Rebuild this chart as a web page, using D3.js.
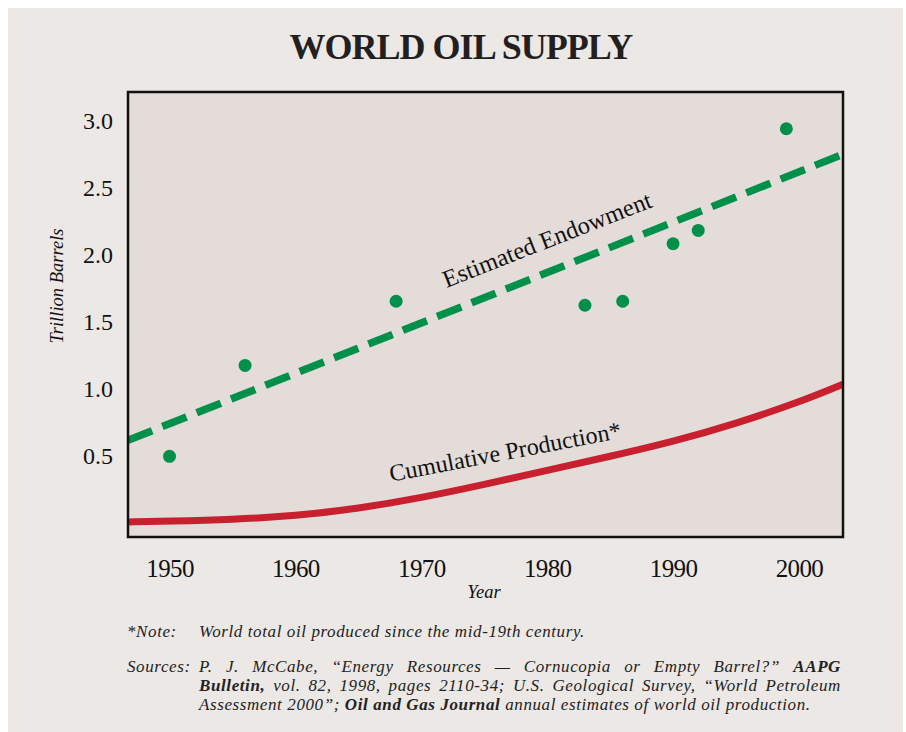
<!DOCTYPE html>
<html>
<head>
<meta charset="utf-8">
<script src="https://cdn.jsdelivr.net/npm/d3@7"></script>
<style>
  body { margin: 0; background: #fff; }
  svg { display: block; font-family: "Liberation Serif", "Times New Roman", serif; }
</style>
</head>
<body>
<svg id="chart" width="906" height="732"></svg>
<script>
// data
var endowYears = [1950, 1956, 1968, 1983, 1986, 1990, 1992, 1999];
var endowValues = [0.49, 1.17, 1.65, 1.62, 1.65, 2.08, 2.18, 2.94];

// dashed trend line ends
var trendYears = [1946.7, 2003.5];
var trendValues = [0.61, 2.75];

var prodYears = [1946.7, 1950, 1955, 1960, 1965, 1970, 1975, 1980, 1985, 1990, 1995, 2000, 2003.5];
var prodValues = [0.0, 0.005, 0.017, 0.045, 0.10, 0.18, 0.28, 0.385, 0.49, 0.60, 0.735, 0.895, 1.03];

var yTicks = [0.5, 1.0, 1.5, 2.0, 2.5, 3.0];
var xTicks = [1950, 1960, 1970, 1980, 1990, 2000];

var svg = d3.select("#chart");
var margin = { top: 92, right: 63, bottom: 195, left: 128 };
var width = 906, height = 732;

var green = "#00904a", red = "#c8202e";

// page background
svg.append("rect")
    .attr("x", 8).attr("y", 8)
    .attr("width", 895).attr("height", 724)
    .attr("fill", "#ece8e5");

var xScale = d3.scaleLinear()
    .domain([1946.7, 2003.5])
    .range([margin.left, width - margin.right]);

var yScale = d3.scaleLinear()
    .domain([-0.113, 3.215])
    .range([height - margin.bottom, margin.top]);

// plot area
svg.append("rect")
    .attr("x", margin.left).attr("y", margin.top)
    .attr("width", width - margin.left - margin.right)
    .attr("height", height - margin.top - margin.bottom)
    .attr("fill", "#e3dcd9");

// title
svg.append("text")
    .attr("x", 461).attr("y", 59)
    .attr("text-anchor", "middle")
    .attr("font-size", 36).attr("font-weight", "bold")
    .attr("letter-spacing", -1)
    .attr("fill", "#231f20")
    .text("WORLD OIL SUPPLY");

// axes (labels only)
var yAxis = svg.append("g")
    .attr("transform", "translate(" + margin.left + ",0)")
    .call(d3.axisLeft(yScale).tickValues(yTicks).tickSize(0).tickPadding(15)
        .tickFormat(d3.format(".1f")));
yAxis.select(".domain").remove();
yAxis.selectAll("text")
    .attr("font-family", "Liberation Serif, serif")
    .attr("font-size", 24).attr("fill", "#111")
    .attr("dy", "0.34em");

var xAxis = svg.append("g")
    .attr("transform", "translate(0," + (height - margin.bottom) + ")")
    .call(d3.axisBottom(xScale).tickValues(xTicks).tickSize(0).tickFormat(d3.format("d")));
xAxis.select(".domain").remove();
xAxis.selectAll("text")
    .attr("font-family", "Liberation Serif, serif")
    .attr("font-size", 25).attr("fill", "#111")
    .attr("letter-spacing", -0.6)
    .attr("y", 40).attr("dy", 0);

// axis titles
svg.append("text")
    .attr("transform", "translate(63,286) rotate(-90)")
    .attr("text-anchor", "middle")
    .attr("font-size", 18.5).attr("font-style", "italic").attr("fill", "#111")
    .text("Trillion Barrels");

svg.append("text")
    .attr("x", 484).attr("y", 598)
    .attr("text-anchor", "middle")
    .attr("font-size", 18.5).attr("font-style", "italic").attr("fill", "#111")
    .text("Year");

// clip to plot box
svg.append("clipPath").attr("id", "plotClip")
    .append("rect")
    .attr("x", margin.left).attr("y", margin.top)
    .attr("width", width - margin.left - margin.right)
    .attr("height", height - margin.top - margin.bottom);

var plot = svg.append("g").attr("clip-path", "url(#plotClip)");

var trend = trendYears.map(function (d, i) { return { year: d, value: trendValues[i] }; });
var prod = prodYears.map(function (d, i) { return { year: d, value: prodValues[i] }; });
var dots = endowYears.map(function (d, i) { return { year: d, value: endowValues[i] }; });

var line = d3.line()
    .x(function (d) { return xScale(d.year); })
    .y(function (d) { return yScale(d.value); });

var curve = d3.line()
    .x(function (d) { return xScale(d.year); })
    .y(function (d) { return yScale(d.value); })
    .curve(d3.curveBasis);

plot.append("path")
    .datum(prod)
    .attr("fill", "none")
    .attr("stroke", red)
    .attr("stroke-width", 7)
    .attr("d", curve);

plot.append("path")
    .datum(trend)
    .attr("fill", "none")
    .attr("stroke", green)
    .attr("stroke-width", 7.5)
    .attr("stroke-dasharray", "26,11")
    .attr("d", line);

plot.selectAll("circle")
    .data(dots)
    .enter().append("circle")
    .attr("cx", function (d) { return xScale(d.year); })
    .attr("cy", function (d) { return yScale(d.value); })
    .attr("r", 6.5)
    .attr("fill", green);

// rotated line labels, angle taken from the line slope
function slopeAngle(pts)
{
    var a = pts[0], b = pts[pts.length - 1];
    return Math.atan2(yScale(b.value) - yScale(a.value), xScale(b.year) - xScale(a.year)) * 180 / Math.PI;
}

svg.append("text")
    .attr("transform", "translate(" + xScale(1972.0) + "," + yScale(1.75) + ") rotate(" + (slopeAngle(trend) + 0.4) + ")")
    .attr("font-size", 24.5).attr("fill", "#111")
    .text("Estimated Endowment");

svg.append("text")
    .attr("transform", "translate(" + xScale(1967.6) + "," + yScale(0.30) + ") rotate(-10.8)")
    .attr("font-size", 24).attr("fill", "#111")
    .text("Cumulative Production*");

// plot border
svg.append("rect")
    .attr("x", margin.left).attr("y", margin.top)
    .attr("width", width - margin.left - margin.right)
    .attr("height", height - margin.top - margin.bottom)
    .attr("fill", "none")
    .attr("stroke", "#111")
    .attr("stroke-width", 2.5);

// footnotes
var notes = svg.append("g")
    .attr("font-size", 17).attr("letter-spacing", 0.6)
    .attr("font-style", "italic").attr("fill", "#222");

notes.append("text").attr("x", 127).attr("y", 637).text("*Note:");
notes.append("text").attr("x", 199).attr("y", 637)
    .text("World total oil produced since the mid-19th century.");

notes.append("text").attr("x", 127).attr("y", 672).text("Sources:");

// justified line: one text per word so the gaps stretch, not the letters
function justify(segments, x0, x1, y)
{
    var words = [];
    segments.forEach(function (s)
    {
        s.text.split(" ").forEach(function (w)
        {
            if (w.length) words.push({ text: w, bold: s.bold });
        });
    });
    var nodes = words.map(function (w)
    {
        return notes.append("text")
            .attr("y", y)
            .attr("font-weight", w.bold ? "bold" : null)
            .text(w.text);
    });
    var total = d3.sum(nodes, function (n) { return n.node().getComputedTextLength(); });
    var gap = (x1 - x0 - total) / (nodes.length - 1);
    var x = x0;
    nodes.forEach(function (n)
    {
        n.attr("x", x);
        x += n.node().getComputedTextLength() + gap;
    });
}

justify([
    { text: "P. J. McCabe, \u201cEnergy Resources \u2014 Cornucopia or Empty Barrel?\u201d", bold: false },
    { text: "AAPG", bold: true }
], 199, 841, 672);

justify([
    { text: "Bulletin,", bold: true },
    { text: "vol. 82, 1998, pages 2110-34; U.S. Geological Survey, \u201cWorld Petroleum", bold: false }
], 199, 841, 691);

var s3 = notes.append("text").attr("x", 199).attr("y", 710);
s3.append("tspan").text("Assessment 2000\u201d; ");
s3.append("tspan").attr("font-weight", "bold").text("Oil and Gas Journal");
s3.append("tspan").text(" annual estimates of world oil production.");
</script>
</body>
</html>
